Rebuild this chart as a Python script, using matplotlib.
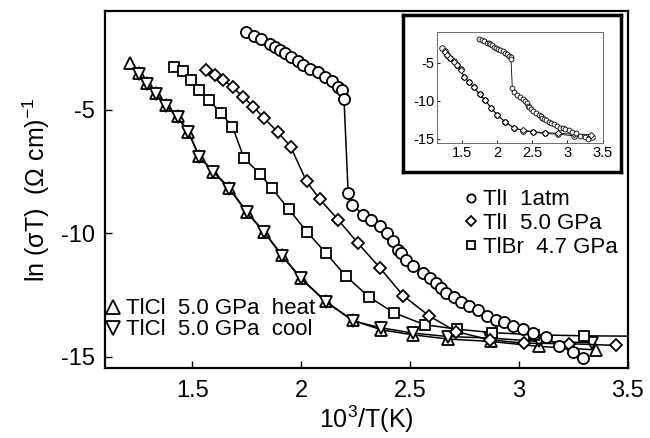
import matplotlib
matplotlib.use("Agg")
import matplotlib.pyplot as plt
from matplotlib.lines import Line2D

plt.rcParams['font.family'] = ['Liberation Sans', 'DejaVu Sans']
plt.rcParams['axes.unicode_minus'] = False
plt.rcParams['mathtext.fontset'] = 'custom'
plt.rcParams['mathtext.rm'] = 'Liberation Sans'

# ---- data (10^3/T, ln(sigma T)) ----
tli_1atm_x = [1.746, 1.784, 1.815, 1.857, 1.880, 1.903, 1.926, 1.956, 1.987, 2.008,
              2.040, 2.077, 2.109, 2.140, 2.170, 2.190, 2.197, 2.216, 2.236, 2.284,
              2.323, 2.361, 2.394, 2.422, 2.443, 2.460, 2.483, 2.513, 2.559, 2.590,
              2.617, 2.643, 2.666, 2.700, 2.735, 2.770, 2.811, 2.852, 2.895, 2.933,
              2.971, 3.017, 3.066, 3.124, 3.185, 3.246, 3.292]
tli_1atm_y = [-1.87, -2.00, -2.14, -2.34, -2.44, -2.57, -2.70, -2.87, -3.04, -3.18,
              -3.35, -3.49, -3.68, -3.85, -4.06, -4.19, -4.55, -8.35, -8.85, -9.25,
              -9.48, -9.72, -9.99, -10.33, -10.67, -10.80, -11.07, -11.32, -11.61, -11.81,
              -12.02, -12.22, -12.40, -12.56, -12.80, -12.96, -13.10, -13.34, -13.50, -13.61,
              -13.74, -13.88, -14.02, -14.18, -14.58, -14.79, -15.05]

tli_5gpa_x = [1.564, 1.605, 1.643, 1.686, 1.735, 1.781, 1.830, 1.895, 1.952, 2.025,
              2.086, 2.170, 2.261, 2.363, 2.468, 2.587, 2.712, 2.865, 3.025, 3.231, 3.445]
tli_5gpa_y = [-3.38, -3.58, -3.79, -4.08, -4.49, -4.87, -5.34, -5.92, -6.49, -7.90,
              -8.62, -9.45, -10.40, -11.41, -12.52, -13.34, -13.98, -14.31, -14.45, -14.47, -14.54]

tlbr_x = [1.418, 1.457, 1.494, 1.533, 1.579, 1.631, 1.685, 1.738, 1.811, 1.865,
          1.944, 2.028, 2.114, 2.204, 2.312, 2.427, 2.567, 2.715, 2.877, 3.071, 3.300, 3.60]
tlbr_y = [-3.25, -3.45, -3.79, -4.19, -4.62, -5.13, -5.68, -6.96, -7.59, -8.17,
          -9.03, -9.95, -10.80, -11.72, -12.58, -13.22, -13.70, -13.88, -14.02, -14.11, -14.15, -14.17]

tlcl_heat_x = [1.213, 1.254, 1.293, 1.335, 1.381, 1.433, 1.483, 1.533, 1.598, 1.671,
               1.750, 1.830, 1.911, 1.999, 2.114, 2.239, 2.369, 2.513, 2.674, 2.872, 3.093, 3.353]
tlcl_heat_y = [-3.11, -3.51, -3.92, -4.32, -4.80, -5.27, -5.88, -6.89, -7.50, -8.17,
               -9.12, -9.93, -10.87, -11.81, -12.76, -13.53, -13.91, -14.11, -14.28, -14.38, -14.58, -14.72]

tlcl_cool_x = [1.254, 1.293, 1.335, 1.381, 1.433, 1.483, 1.533, 1.598, 1.671,
               1.750, 1.830, 1.911, 1.999, 2.114, 2.239, 2.369, 2.513, 2.674, 2.865, 3.093, 3.335]
tlcl_cool_y = [-3.55, -3.95, -4.35, -4.85, -5.30, -5.92, -6.92, -7.52, -8.20,
               -9.15, -9.95, -10.90, -11.83, -12.78, -13.55, -13.83, -14.04, -14.18, -14.24, -14.38, -14.43]

xticks = [1.5, 2, 2.5, 3, 3.5]
xticklabels = ['1.5', '2', '2.5', '3', '3.5']
yticks = [-5, -10, -15]
yticklabels = ['-5', '-10', '-15']

fig = plt.figure(figsize=(6.5, 4.38), dpi=100)
ax = fig.add_axes([0.1615, 0.160, 0.8045, 0.815])
ax.set_zorder(0)

mk = dict(mfc='white', mec='black', mew=1.3, color='black', lw=1.1)
ax.plot(tlcl_heat_x, tlcl_heat_y, marker='^', ms=8, **mk)
ax.plot(tlcl_cool_x, tlcl_cool_y, marker='v', ms=8, **mk)
ax.plot(tlbr_x, tlbr_y, marker='s', ms=7.3, **mk)
ax.plot(tli_5gpa_x, tli_5gpa_y, marker='D', ms=6.3, **mk)
ax.plot(tli_1atm_x, tli_1atm_y, marker='o', ms=8, **mk)

ax.set_xlim(1.1, 3.5)
ax.set_ylim(-15.45, -1.0)
ax.set_xticks(xticks)
ax.set_xticklabels(xticklabels)
ax.set_yticks(yticks)
ax.set_yticklabels(yticklabels)
ax.tick_params(direction='in', length=5, width=1, labelsize=17)
ax.tick_params(axis='x', pad=9)
ax.tick_params(axis='y', pad=7)
for s in ax.spines.values():
    s.set_linewidth(1.6)
ax.set_xlabel('10$^{3}$/T(K)', fontsize=18, labelpad=1)
ax.set_ylabel('ln (σT)  (Ω cm)$^{-1}$', fontsize=18, labelpad=7)

h1 = [Line2D([], [], ls='none', marker='o', ms=6, mfc='white', mec='black', mew=1.3),
      Line2D([], [], ls='none', marker='D', ms=4.6, mfc='white', mec='black', mew=1.3),
      Line2D([], [], ls='none', marker='s', ms=6, mfc='white', mec='black', mew=1.3)]
leg1 = ax.legend(h1, ['TlI  1atm', 'TlI  5.0 GPa', 'TlBr  4.7 GPa'],
                 loc='upper left', bbox_to_anchor=(0.689, 0.50), frameon=False,
                 fontsize=16, handlelength=0.5, handletextpad=0.29, labelspacing=0.12,
                 borderpad=0, borderaxespad=0)
ax.add_artist(leg1)
h2 = [Line2D([], [], ls='none', marker='^', ms=9.5, mfc='white', mec='black', mew=1.3),
      Line2D([], [], ls='none', marker='v', ms=9.5, mfc='white', mec='black', mew=1.3)]
ax.legend(h2, ['TlCl  5.0 GPa  heat', 'TlCl  5.0 GPa  cool'],
          loc='upper left', bbox_to_anchor=(0.0, 0.195), frameon=False,
          fontsize=16, handlelength=0.7, handletextpad=0.25, labelspacing=0.0,
          borderpad=0, borderaxespad=0)

# inset frame
frame = fig.add_axes([0.620, 0.607, 0.335, 0.359])
frame.set_zorder(1)
frame.set_xticks([])
frame.set_yticks([])
for s in frame.spines.values():
    s.set_linewidth(2.5)

ins = fig.add_axes([0.673, 0.674, 0.254, 0.254])
ins.set_zorder(2)
mi = dict(mfc='white', mec='black', mew=0.6, color='black', lw=0.6)
ins.plot(tlcl_heat_x, tlcl_heat_y, marker='o', ms=4, **mi)
ins.plot(tlcl_cool_x, tlcl_cool_y, marker='D', ms=3.2, **mi)
ins.plot(tli_1atm_x, tli_1atm_y, marker='o', ms=3.5, **mi)
ins.set_xlim(1.15, 3.5)
ins.set_ylim(-15.5, -0.9)
ins.set_xticks(xticks)
ins.set_xticklabels(xticklabels)
ins.set_yticks(yticks)
ins.set_yticklabels(yticklabels)
ins.tick_params(direction='in', length=2, width=0.6, labelsize=10.5, pad=2)
for s in ins.spines.values():
    s.set_linewidth(0.6)
    s.set_color('#555555')

fig.savefig('out.png', dpi=100)
